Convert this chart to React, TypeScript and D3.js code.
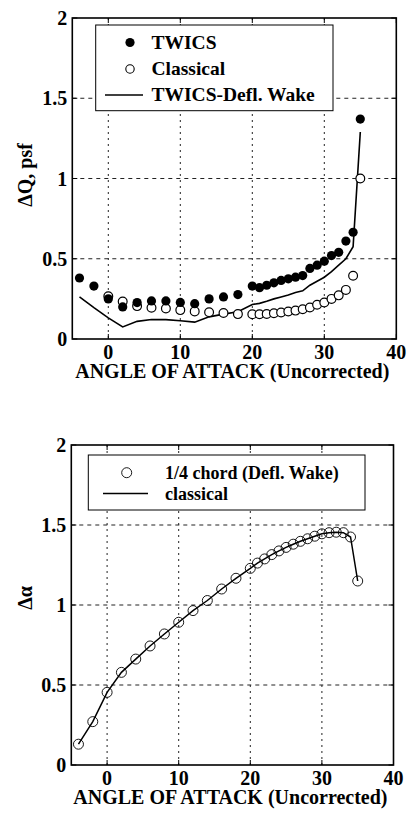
import React from "react";
import * as d3 from "d3";

// ---------- Data: top chart (ΔQ, psf) ----------
const twicsAngles = [-4, -2, 0, 2, 4, 6, 8, 10, 12, 14, 16, 18, 20, 21, 22, 23, 24, 25, 26, 27, 28, 29, 30, 31, 32, 33, 34, 35];
const twicsValues = [0.38, 0.33, 0.25, 0.2, 0.227, 0.237, 0.237, 0.228, 0.22, 0.25, 0.262, 0.277, 0.33, 0.32, 0.335, 0.35, 0.365, 0.375, 0.385, 0.395, 0.44, 0.46, 0.485, 0.52, 0.54, 0.61, 0.665, 1.37];

const classicalAngles = [0, 2, 4, 6, 8, 10, 12, 14, 16, 18, 20, 21, 22, 23, 24, 25, 26, 27, 28, 29, 30, 31, 32, 33, 34, 35];
const classicalValues = [0.266, 0.233, 0.205, 0.195, 0.19, 0.18, 0.172, 0.167, 0.162, 0.155, 0.154, 0.154, 0.156, 0.16, 0.165, 0.171, 0.177, 0.185, 0.196, 0.213, 0.227, 0.25, 0.272, 0.306, 0.394, 1.0];

const wakeAngles = [-4, -2, 0, 2, 4, 6, 8, 10, 12, 14, 16, 18, 20, 21, 22, 23, 24, 25, 26, 27, 28, 29, 30, 31, 32, 33, 34, 35];
const wakeValues = [0.262, 0.195, 0.132, 0.075, 0.11, 0.121, 0.121, 0.114, 0.105, 0.138, 0.155, 0.17, 0.215, 0.222, 0.235, 0.25, 0.262, 0.274, 0.29, 0.3, 0.335, 0.36, 0.385, 0.42, 0.46, 0.5, 0.575, 1.29];

// ---------- Data: bottom chart (Δα) ----------
const alphaAngles = [-4, -2, 0, 2, 4, 6, 8, 10, 12, 14, 16, 18, 20, 21, 22, 23, 24, 25, 26, 27, 28, 29, 30, 31, 32, 33, 34, 35];
const quarterChordValues = [0.13, 0.271, 0.454, 0.579, 0.662, 0.744, 0.819, 0.892, 0.965, 1.028, 1.1, 1.167, 1.229, 1.262, 1.288, 1.315, 1.338, 1.36, 1.38, 1.398, 1.414, 1.43, 1.445, 1.452, 1.455, 1.452, 1.425, 1.15];
const classicalAlphaValues = [0.13, 0.271, 0.454, 0.579, 0.662, 0.744, 0.819, 0.892, 0.965, 1.028, 1.1, 1.167, 1.229, 1.262, 1.288, 1.315, 1.338, 1.36, 1.38, 1.398, 1.414, 1.43, 1.445, 1.452, 1.455, 1.452, 1.425, 1.15];

// ---------- Axis ticks ----------
const xTicks = [0, 10, 20, 30, 40];
const xGrid = [0, 10, 20, 30];
const yTicks = [0, 0.5, 1, 1.5, 2];
const yTickLabels = ["0", "0.5", "1", "1.5", "2"];
const yGrid = [0.5, 1, 1.5];

const xLabel = "ANGLE OF ATTACK (Uncorrected)";
const topYLabel = "ΔQ, psf";
const bottomYLabel = "Δα";
const topLegend = ["TWICS", "Classical", "TWICS-Defl. Wake"];
const bottomLegend = ["1/4 chord (Defl. Wake)", "classical"];

const FONT = "Liberation Serif, Times New Roman, DejaVu Serif, serif";
const txt = (size: number): React.CSSProperties => ({ fontFamily: FONT, fontSize: size, fontWeight: "bold", fill: "#000" });

type Frame = { x0: number; x1: number; y0: number; y1: number };

function Axes({ f, x, y, yLabel, yLabelY }: { f: Frame; x: d3.ScaleLinear<number, number>; y: d3.ScaleLinear<number, number>; yLabel: string; yLabelY: number }) {
  return (
    <g>
      {xGrid.map((t) => (
        <line key={"xg" + t} x1={x(t)} x2={x(t)} y1={f.y0} y2={f.y1} stroke="#222" strokeWidth={1} strokeDasharray="2,4" />
      ))}
      {yGrid.map((t) => (
        <line key={"yg" + t} x1={f.x0} x2={f.x1} y1={y(t)} y2={y(t)} stroke="#222" strokeWidth={1} strokeDasharray="4,4" />
      ))}
      <rect x={f.x0} y={f.y0} width={f.x1 - f.x0} height={f.y1 - f.y0} fill="none" stroke="#000" strokeWidth={1.6} />
      {xTicks.map((t) => (
        <g key={"xt" + t}>
          <line x1={x(t)} x2={x(t)} y1={f.y1} y2={f.y1 - 5} stroke="#000" />
          <line x1={x(t)} x2={x(t)} y1={f.y0} y2={f.y0 + 5} stroke="#000" />
          <text x={x(t)} y={f.y1 + 20} textAnchor="middle" style={txt(20)}>{t}</text>
        </g>
      ))}
      {yTicks.map((t, i) => (
        <g key={"yt" + t}>
          <line x1={f.x0} x2={f.x0 + 5} y1={y(t)} y2={y(t)} stroke="#000" />
          <line x1={f.x1} x2={f.x1 - 5} y1={y(t)} y2={y(t)} stroke="#000" />
          <text x={f.x0 - 5} y={y(t) + 7} textAnchor="end" style={txt(20)}>{yTickLabels[i]}</text>
        </g>
      ))}
      <text x={(f.x0 + f.x1) / 2 - 2} y={f.y1 + 39} textAnchor="middle" style={txt(20)}>{xLabel}</text>
      <text transform={`translate(32,${yLabelY}) rotate(-90)`} textAnchor="middle" style={txt(20)}>{yLabel}</text>
    </g>
  );
}

export default function App() {
  // top chart
  const fT: Frame = { x0: 72.3, x1: 396.3, y0: 18, y1: 339 };
  const xT = d3.scaleLinear().domain([-5, 40]).range([fT.x0, fT.x1]);
  const yT = d3.scaleLinear().domain([0, 2]).range([fT.y1, fT.y0]);
  const wakeLine = d3.line<number>().x((_, i) => xT(wakeAngles[i])).y((v) => yT(v));

  // bottom chart
  const fB: Frame = { x0: 71.3, x1: 393.5, y0: 445, y1: 765 };
  const xB = d3.scaleLinear().domain([-5, 40]).range([fB.x0, fB.x1]);
  const yB = d3.scaleLinear().domain([0, 2]).range([fB.y1, fB.y0]);
  const alphaLine = d3.line<number>().x((_, i) => xB(alphaAngles[i])).y((v) => yB(v));

  return (
    <svg width={411} height={826} style={{ position: "absolute", left: 0, top: 0, background: "#fff" }}>
      <rect x={0} y={0} width={411} height={826} fill="#fff" />
      {/* TOP */}
      <Axes f={fT} x={xT} y={yT} yLabel={topYLabel} yLabelY={175} />
      <path d={wakeLine(wakeValues) || ""} fill="none" stroke="#000" strokeWidth={1.6} />
      {classicalValues.map((v, i) => (
        <circle key={"c" + i} cx={xT(classicalAngles[i])} cy={yT(v)} r={4.4} fill="#fff" stroke="#000" strokeWidth={1.2} />
      ))}
      {twicsValues.map((v, i) => (
        <circle key={"t" + i} cx={xT(twicsAngles[i])} cy={yT(v)} r={4.6} fill="#000" />
      ))}
      {/* top legend */}
      <rect x={95.7} y={25} width={237.3} height={85.7} fill="#fff" stroke="#000" strokeWidth={1} />
      <circle cx={130} cy={42.5} r={4.6} fill="#000" />
      <circle cx={130} cy={69} r={4.2} fill="#fff" stroke="#000" strokeWidth={1.1} />
      <line x1={105} x2={143} y1={95} y2={95} stroke="#000" strokeWidth={1.6} />
      {topLegend.map((s, i) => (
        <text key={s} x={151.5} y={49 + i * 26} style={txt(19.5)}>{s}</text>
      ))}

      {/* BOTTOM */}
      <Axes f={fB} x={xB} y={yB} yLabel={bottomYLabel} yLabelY={598} />
      <path d={alphaLine(classicalAlphaValues) || ""} fill="none" stroke="#000" strokeWidth={1.5} />
      {quarterChordValues.map((v, i) => (
        <circle key={"q" + i} cx={xB(alphaAngles[i])} cy={yB(v)} r={5} fill="none" stroke="#000" strokeWidth={0.9} />
      ))}
      {/* bottom legend */}
      <rect x={88.3} y={455} width={276.7} height={55} fill="#fff" stroke="#000" strokeWidth={1} />
      <circle cx={126.7} cy={472.7} r={5} fill="none" stroke="#000" strokeWidth={0.9} />
      <line x1={103} x2={148} y1={493.5} y2={493.5} stroke="#000" strokeWidth={1.6} />
      {bottomLegend.map((s, i) => (
        <text key={s} x={165} y={479 + i * 20.5} style={txt(18)}>{s}</text>
      ))}
    </svg>
  );
}
